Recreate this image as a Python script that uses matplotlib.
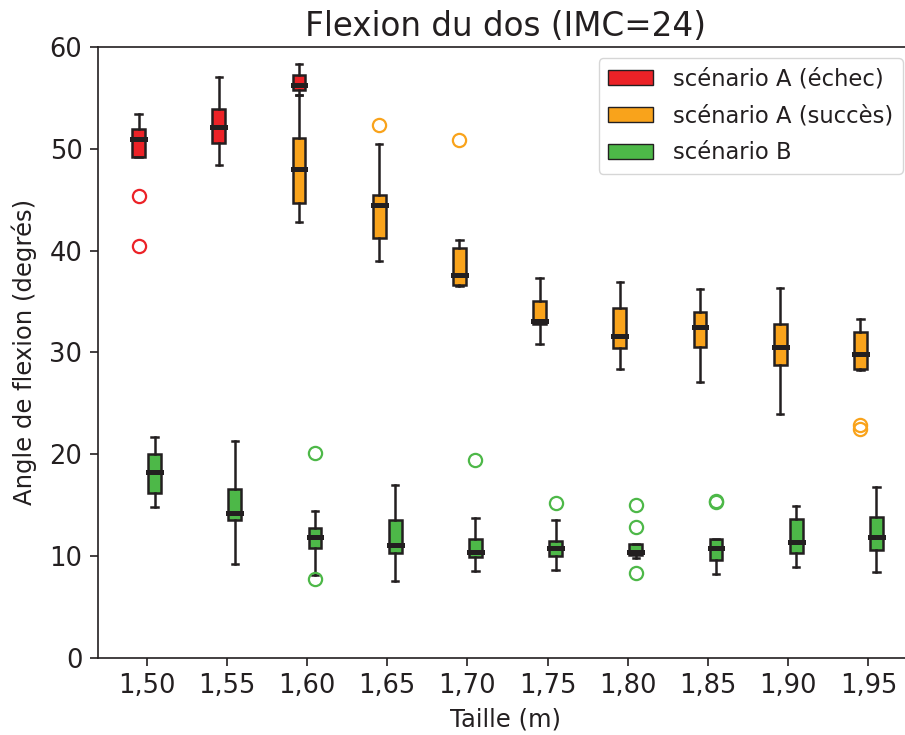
import matplotlib
matplotlib.use("Agg")
from matplotlib import pyplot as plt
from matplotlib.patches import Patch

plt.rcParams['font.family'] = ['DejaVu Sans']

tailles = ['1,50', '1,55', '1,60', '1,65', '1,70', '1,75', '1,80', '1,85', '1,90', '1,95']

# scénario A (échec) : tailles 1,50 -> 1,60
echec_idx = [0, 1, 2]
echec_lo = [49.2, 48.4, 55.3]
echec_q1 = [49.2, 50.6, 55.8]
echec_med = [51.0, 52.1, 56.3]
echec_q3 = [51.9, 53.9, 57.3]
echec_hi = [53.4, 57.1, 58.3]
echec_out = [[45.4, 40.5], [], []]

# scénario A (succès) : tailles 1,60 -> 1,95
succes_idx = [2, 3, 4, 5, 6, 7, 8, 9]
succes_lo = [42.8, 39.0, 36.5, 30.8, 28.4, 27.1, 24.0, 28.3]
succes_q1 = [44.7, 41.2, 36.6, 32.8, 30.4, 30.5, 28.8, 28.4]
succes_med = [48.0, 44.5, 37.6, 33.1, 31.6, 32.5, 30.5, 29.8]
succes_q3 = [51.1, 45.5, 40.3, 35.1, 34.4, 34.0, 32.8, 32.0]
succes_hi = [55.3, 50.5, 41.0, 37.3, 36.9, 36.2, 36.3, 33.3]
succes_out = [[], [52.3], [50.9], [], [], [], [], [22.9, 22.5]]

# scénario B : toutes les tailles
b_idx = [0, 1, 2, 3, 4, 5, 6, 7, 8, 9]
b_lo = [14.8, 9.2, 8.1, 7.5, 8.5, 8.6, 9.8, 8.2, 8.9, 8.45]
b_q1 = [16.2, 13.5, 10.8, 10.3, 9.95, 10.0, 10.15, 9.6, 10.3, 10.6]
b_med = [18.3, 14.2, 11.9, 11.1, 10.4, 10.8, 10.4, 10.8, 11.4, 11.9]
b_q3 = [20.0, 16.6, 12.8, 13.5, 11.7, 11.5, 11.2, 11.7, 13.6, 13.8]
b_hi = [21.7, 21.3, 14.4, 17.0, 13.7, 13.5, 11.2, 11.7, 14.9, 16.8]
b_out = [[], [], [20.1, 7.7], [], [19.4], [15.2], [15.0, 12.9, 8.3], [15.4, 15.3], [], []]

couleurs = {'echec': '#ec2227', 'succes': '#f9a31b', 'b': '#4db848'}
bord = '#231f20'

fig = plt.figure(figsize=(9.05, 7.35), dpi=100)
# l'axe déborde un peu à droite de la figure (comme l'original)
ax = fig.add_axes([0.108, 0.105, 0.902, 0.831])


def draw(idx, lo, q1, med, q3, hi, out, offset, color):
    stats = []
    for i in range(len(idx)):
        stats.append({'whislo': lo[i], 'q1': q1[i], 'med': med[i], 'q3': q3[i],
                      'whishi': hi[i], 'fliers': out[i]})
    pos = [p + offset for p in idx]
    ax.bxp(stats, positions=pos, widths=0.16, patch_artist=True, manage_ticks=False,
           boxprops=dict(facecolor=color, edgecolor=bord, linewidth=1.8),
           medianprops=dict(color=bord, linewidth=3.6, solid_capstyle='projecting'),
           whiskerprops=dict(color=bord, linewidth=1.8),
           capprops=dict(color=bord, linewidth=1.8),
           flierprops=dict(marker='o', markerfacecolor='none', markeredgecolor=color,
                           markersize=9.5, markeredgewidth=1.6))


draw(succes_idx, succes_lo, succes_q1, succes_med, succes_q3, succes_hi, succes_out, -0.1, couleurs['succes'])
draw(echec_idx, echec_lo, echec_q1, echec_med, echec_q3, echec_hi, echec_out, -0.1, couleurs['echec'])
draw(b_idx, b_lo, b_q1, b_med, b_q3, b_hi, b_out, 0.1, couleurs['b'])

ax.set_xlim(-0.61, 9.57)
ax.set_ylim(0, 60)
ax.set_xticks(range(len(tailles)))
ax.set_xticklabels(tailles)
ax.set_yticks(range(0, 61, 10))
ax.tick_params(labelsize=18.5, length=6, width=1.2, pad=5, colors=bord)
ax.spines['right'].set_visible(False)
for s in ['left', 'bottom', 'top']:
    ax.spines[s].set_linewidth(1.2)
    ax.spines[s].set_color(bord)
ax.set_xlabel('Taille (m)', fontsize=17.5, color=bord, labelpad=6)
ax.set_ylabel('Angle de flexion (degrés)', fontsize=17.5, color=bord, labelpad=9)
ax.set_title('Flexion du dos (IMC=24)', fontsize=23.5, color=bord, pad=8)

handles = [Patch(facecolor=couleurs['echec'], edgecolor=bord, label='scénario A (échec)'),
           Patch(facecolor=couleurs['succes'], edgecolor=bord, label='scénario A (succès)'),
           Patch(facecolor=couleurs['b'], edgecolor=bord, label='scénario B')]
leg = ax.legend(handles=handles, loc='upper right', fontsize=16.3, borderaxespad=0.5,
                labelspacing=0.62, handletextpad=0.9)
for t in leg.get_texts():
    t.set_color(bord)

fig.savefig('out.png', dpi=100)
